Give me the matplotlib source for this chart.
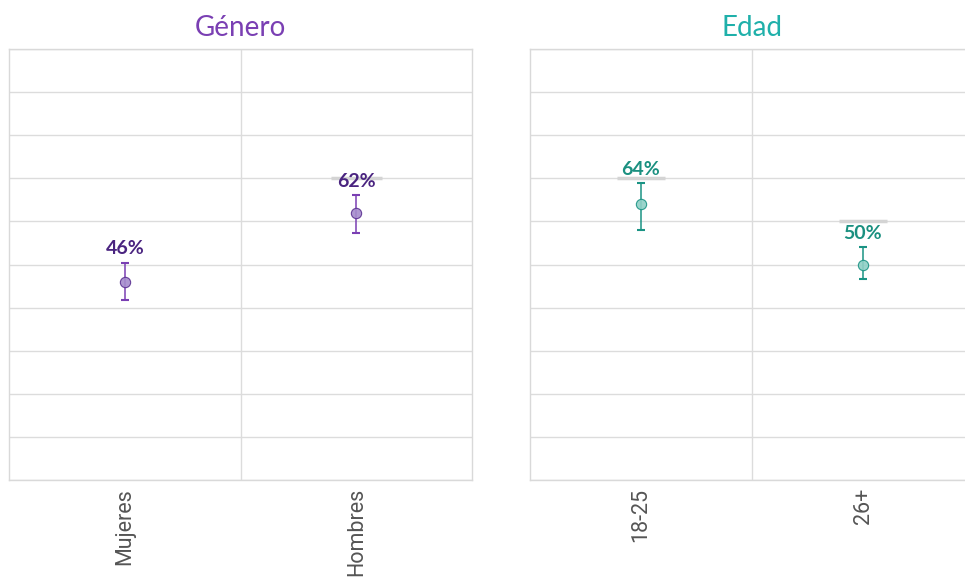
import numpy as np
import matplotlib
matplotlib.use("Agg")
import matplotlib.pyplot as plt

plt.rcParams['font.family'] = ['Lato', 'DejaVu Sans']

# Panel data
gender_cats = ["Mujeres", "Hombres"]
gender_vals = [0.46, 0.62]
gender_low = [0.418, 0.573]
gender_high = [0.504, 0.661]
gender_ref = [np.nan, 0.70]

age_cats = ["18-25", "26+"]
age_vals = [0.64, 0.50]
age_low = [0.58, 0.466]
age_high = [0.689, 0.54]
age_ref = [0.70, 0.60]

W, H = 965, 578
fig = plt.figure(figsize=(W / 100, H / 100), dpi=100)

panels = [
    dict(title="Género", cats=gender_cats, vals=gender_vals, low=gender_low,
         high=gender_high, ref=gender_ref, title_color="#7a3fb3",
         line="#7a3fb3", face="#a58ccc", edge="#5b3192", label="#4a2480",
         rect=(9, 472)),
    dict(title="Edad", cats=age_cats, vals=age_vals, low=age_low,
         high=age_high, ref=age_ref, title_color="#1fb0aa",
         line="#1a9384", face="#8fd0c6", edge="#1a9384", label="#1a9080",
         rect=(530, 974)),
]

top_px, bot_px = 49, 480
for p in panels:
    x0, x1 = p["rect"]
    ax = fig.add_axes([x0 / W, (H - bot_px) / H, (x1 - x0) / W, (bot_px - top_px) / H])
    ax.set_xlim(0, 2)
    ax.set_ylim(0, 1)
    ax.set_yticks(np.arange(0, 1.01, 0.1))
    ax.set_xticks([1])
    ax.grid(True, color="#dcdcdc", linewidth=1)
    ax.set_axisbelow(True)
    ax.tick_params(length=0, labelleft=False, labelbottom=False)
    for s in ax.spines.values():
        s.set_color("#d9d9d9")
        s.set_linewidth(1)
    pos = np.arange(len(p["cats"])) + 0.5
    for xp, c in zip(pos, p["cats"]):
        ax.text(xp, -0.018, c, rotation=90, ha="center", va="top",
                fontsize=15.5, color="#555555", family=["Roboto", "DejaVu Sans"],
                transform=ax.transData, clip_on=False)
    # reference dashes
    for xp, r in zip(pos, p["ref"]):
        if not np.isnan(r):
            ax.hlines(r, xp - 0.11, xp + 0.11, color="#d4d4d4", linewidth=2.5, zorder=1.5)
    vals = np.array(p["vals"])
    yerr = np.array([vals - np.array(p["low"]), np.array(p["high"]) - vals])
    ax.errorbar(pos, vals, yerr=yerr, fmt="none", ecolor=p["line"],
                elinewidth=1.1, capsize=3, capthick=1.5, zorder=3)
    ax.scatter(pos, vals, s=55, color=p["face"], edgecolor=p["edge"],
               linewidth=0.8, alpha=0.9, zorder=4)
    for xp, v, hi in zip(pos, vals, p["high"]):
        ax.annotate(f"{round(v * 100):d}%", (xp, hi), xytext=(0, 10),
                    textcoords="offset points", ha="center", va="center",
                    fontsize=14, fontweight="bold", color=p["label"], zorder=5)
    ax.set_title(p["title"], color=p["title_color"], fontsize=20,
                 fontweight="normal", pad=9)

fig.savefig("out.png", dpi=100)
